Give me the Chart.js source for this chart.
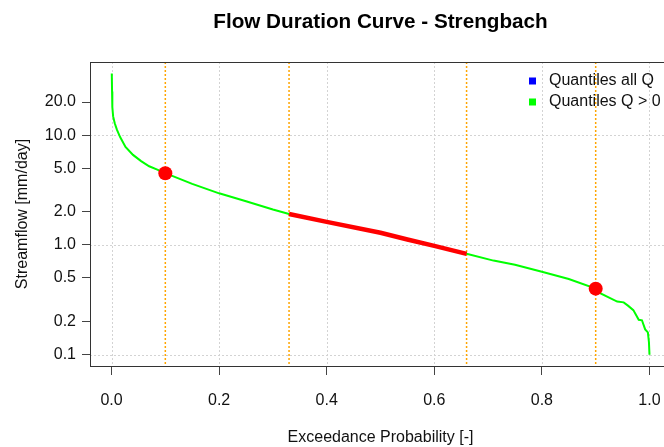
<!DOCTYPE html>
<html>
<head>
  <title>Flow Duration Curve - Strengbach</title>
  <script src="https://cdn.jsdelivr.net/npm/chart.js"></script>
  <style>
    html, body { margin: 0; padding: 0; background: #fff; overflow: hidden; }
    #wrap { width: 680px; height: 447px; }
  </style>
</head>
<body>
  <div id="wrap">
    <canvas id="fdcChart" width="680" height="447"></canvas>
  </div>

  <script>
    // exceedance probability [-] and streamflow [mm/day]
    const exceedProb = [0.0005, 0.001, 0.0015, 0.003, 0.006, 0.01, 0.016, 0.026, 0.04, 0.055, 0.07, 0.085, 0.1,
      0.15, 0.2, 0.25, 0.3, 0.33, 0.4, 0.5, 0.55, 0.6, 0.66, 0.71, 0.75, 0.8, 0.85, 0.9,
      0.91, 0.94, 0.952, 0.96, 0.97, 0.98, 0.986, 0.992, 0.997, 0.999, 1.0];
    const flowValues = [36.4, 25.0, 18.0, 14.8, 12.8, 11.2, 9.6, 7.8, 6.6, 5.8, 5.2, 4.85, 4.5,
      3.6, 2.95, 2.5, 2.1, 1.91, 1.62, 1.29, 1.12, 0.98, 0.83, 0.72, 0.66, 0.57, 0.49, 0.40,
      0.36, 0.305, 0.30, 0.28, 0.255, 0.208, 0.206, 0.17, 0.16, 0.13, 0.1];

    // highlighted middle range and quantile points
    const midRange = [0.33, 0.66];
    const quantProb = [0.1, 0.9];
    const quantFlow = [4.5, 0.40];
    const thresholdLines = [0.1, 0.33, 0.66, 0.9];

    const xTicks = [0.0, 0.2, 0.4, 0.6, 0.8, 1.0];
    const yTicks = [0.1, 0.2, 0.5, 1, 2, 5, 10, 20];
    const yGrid = [0.1, 1, 10];

    const legendLabels = ['Quantiles all Q', 'Quantiles Q > 0'];
    const legendColors = ['#0000ff', '#00ff00'];

    const fontFamily = '"Liberation Sans", Arial, Helvetica, sans-serif';
    Chart.defaults.font.family = fontFamily;
    Chart.defaults.color = '#111';

    const curve = exceedProb.map((p, i) => ({ x: p, y: flowValues[i] }));
    const midCurve = curve.filter(pt => pt.x >= midRange[0] && pt.x <= midRange[1]);
    const quantPts = quantProb.map((p, i) => ({ x: p, y: quantFlow[i] }));

    // dotted lines as short pixel runs (like R's lty=3)
    function dotV(ctx, px, top, bottom, color, w) {
      ctx.fillStyle = color;
      for (let yy = top; yy < bottom; yy += 4) ctx.fillRect(px, yy, w, Math.min(2, bottom - yy));
    }
    function dotH(ctx, py, left, right, color) {
      ctx.fillStyle = color;
      for (let xx = left; xx < right; xx += 4) ctx.fillRect(xx, py, Math.min(2, right - xx), 1);
    }

    const rPlot = {
      id: 'rPlot',
      beforeDatasetsDraw(chart) {
        const { ctx, chartArea: a, scales: { x, y } } = chart;
        ctx.save();
        xTicks.forEach(v => dotV(ctx, Math.round(x.getPixelForValue(v)), a.top, a.bottom, '#d3d3d3', 1));
        yGrid.forEach(v => dotH(ctx, Math.round(y.getPixelForValue(v)), a.left, a.right, '#d3d3d3'));
        thresholdLines.forEach(v => dotV(ctx, x.getPixelForValue(v) - 0.75, a.top, a.bottom, 'rgb(255,165,0)', 1.5));
        ctx.restore();
      },
      afterDraw(chart) {
        const { ctx, chartArea: a } = chart;
        ctx.save();
        // box
        ctx.strokeStyle = '#333';
        ctx.lineWidth = 1;
        ctx.strokeRect(a.left + 0.5, a.top + 0.5, a.right - a.left, a.bottom - a.top);
        // title
        ctx.fillStyle = '#000';
        ctx.font = 'bold 20.7px ' + fontFamily;
        ctx.textAlign = 'center';
        ctx.textBaseline = 'middle';
        ctx.fillText('Flow Duration Curve - Strengbach', (a.left + a.right) / 2, 22);
        // legend
        ctx.font = '16px ' + fontFamily;
        ctx.textAlign = 'left';
        legendLabels.forEach((lab, i) => {
          const cy = 81 + i * 21;
          ctx.fillStyle = legendColors[i];
          ctx.fillRect(529, cy - 3.5, 7, 7);
          ctx.fillStyle = '#111';
          ctx.fillText(lab, 549, cy);
        });
        ctx.restore();
      }
    };

    new Chart(document.getElementById('fdcChart'), {
      type: 'line',
      data: {
        datasets: [
          {
            label: 'Quantiles',
            data: quantPts,
            showLine: false,
            pointRadius: 7,
            pointHoverRadius: 7,
            pointBackgroundColor: '#ff0000',
            pointBorderWidth: 0,
            order: 0
          },
          {
            label: 'Mid range',
            data: midCurve,
            borderColor: '#ff0000',
            borderWidth: 4.5,
            pointRadius: 0,
            tension: 0,
            order: 1
          },
          {
            label: 'FDC',
            data: curve,
            borderColor: '#00ff00',
            borderWidth: 2,
            pointRadius: 0,
            tension: 0,
            order: 2
          }
        ]
      },
      options: {
        responsive: false,
        animation: false,
        layout: { padding: { top: 62, right: 9, left: 0, bottom: 0 } },
        plugins: {
          legend: { display: false },
          tooltip: { enabled: false },
          title: { display: false }
        },
        scales: {
          x: {
            type: 'linear',
            min: -0.04,
            max: 1.04,
            afterBuildTicks: axis => { axis.ticks = xTicks.map(v => ({ value: v })); },
            afterFit: axis => { axis.height = 81; },
            ticks: {
              autoSkip: false,
              maxRotation: 0,
              padding: 16,
              font: { size: 16 },
              callback: v => Number(v).toFixed(1)
            },
            grid: { drawOnChartArea: false, tickLength: 9, tickColor: '#444' },
            border: { display: false },
            title: {
              display: true,
              text: 'Exceedance Probability [-]',
              font: { size: 16 },
              padding: { top: 0, bottom: 0 }
            }
          },
          y: {
            type: 'logarithmic',
            min: 0.079,
            max: 46.3,
            afterBuildTicks: axis => { axis.ticks = yTicks.map(v => ({ value: v })); },
            afterFit: axis => { axis.width = 90; },
            ticks: {
              autoSkip: false,
              padding: 6,
              font: { size: 16 },
              callback: v => Number(v).toFixed(1)
            },
            grid: { drawOnChartArea: false, tickLength: 8, tickColor: '#444' },
            border: { display: false },
            title: {
              display: true,
              text: 'Streamflow [mm/day]',
              font: { size: 16 },
              padding: { top: 13, bottom: 0 }
            }
          }
        }
      },
      plugins: [rPlot]
    });
  </script>
</body>
</html>
